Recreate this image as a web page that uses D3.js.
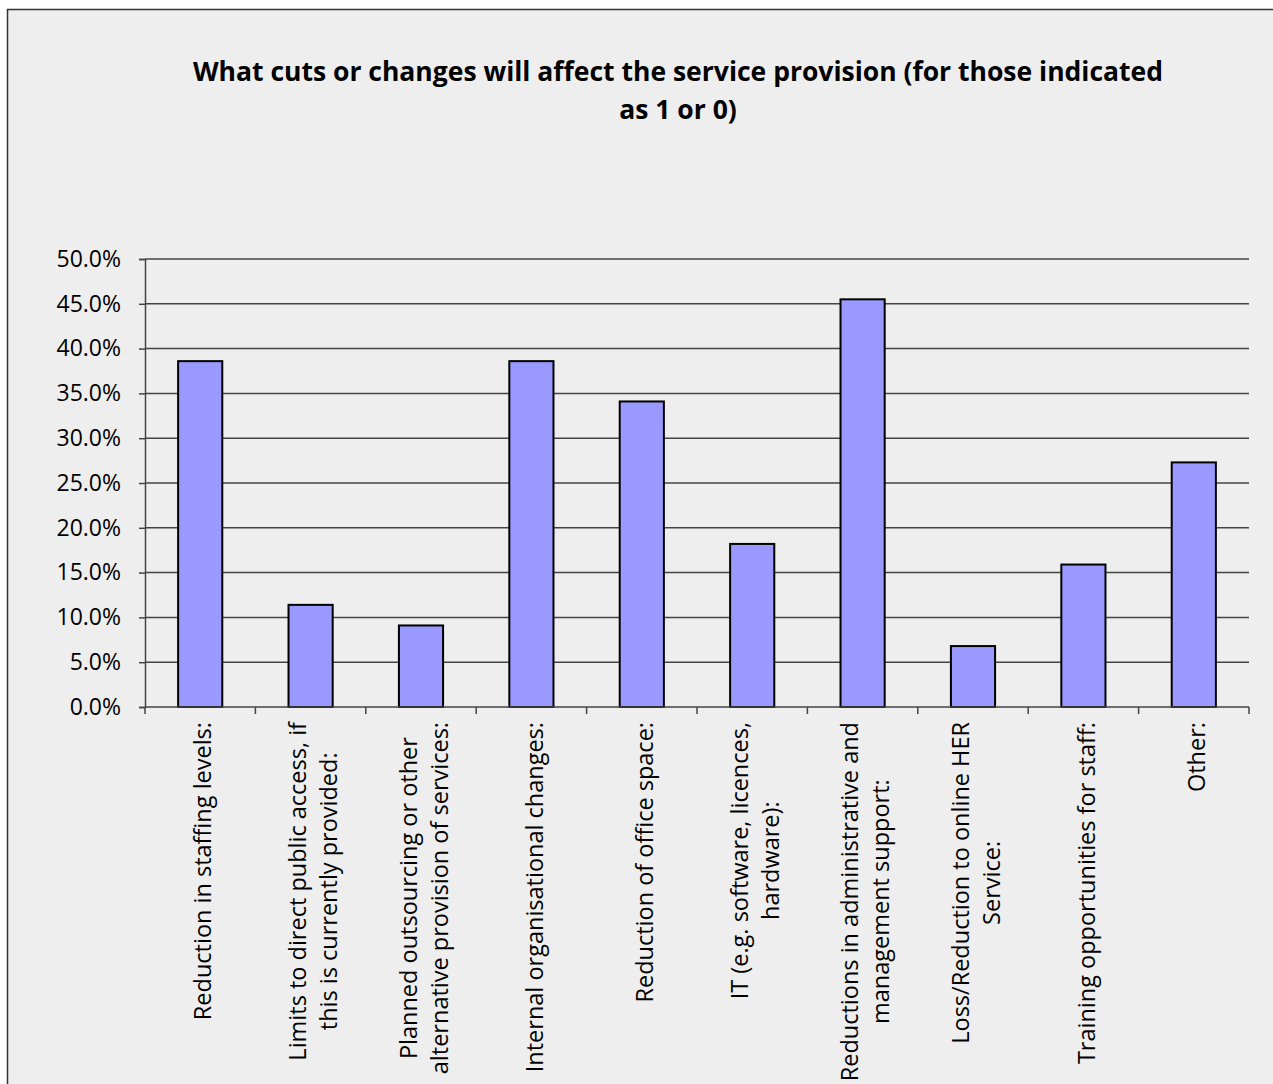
<!DOCTYPE html>
<html>
<head>
<meta charset="utf-8">
<script src="https://cdn.jsdelivr.net/npm/d3@7"></script>
<style>
  body { margin: 0; background: #fff; }
  text { font-family: "Open Sans", sans-serif; fill: #000; }
</style>
</head>
<body>
<div id="chart"></div>
<script>
const titleLines = ["What cuts or changes will affect the service provision (for those indicated", "as 1 or 0)"];

const categories = [
    ["Reduction in staffing levels:"],
    ["Limits to direct public access, if", "this is currently provided:"],
    ["Planned outsourcing or other", "alternative  provision of services:"],
    ["Internal organisational changes:"],
    ["Reduction of office space:"],
    ["IT (e.g. software, licences,", "hardware):"],
    ["Reductions in administrative and", "management support:"],
    ["Loss/Reduction to online HER", "Service:"],
    ["Training opportunities for staff:"],
    ["Other:"]
];

const values = [38.6, 11.4, 9.1, 38.6, 34.1, 18.2, 45.5, 6.8, 15.9, 27.3];

const yTicks = [0, 5, 10, 15, 20, 25, 30, 35, 40, 45, 50];

const W = 1273, H = 1084;
const plot = {left: 145, right: 1249, top: 259, bottom: 707};

const svg = d3.select("#chart")
    .append("svg")
    .attr("width", W)
    .attr("height", H);

// chart area background and frame
svg.append("rect")
    .attr("x", 7.5)
    .attr("y", 9.5)
    .attr("width", W + 10)
    .attr("height", H + 10)
    .attr("fill", "#eeeeee")
    .attr("stroke", "#333")
    .attr("stroke-width", 1.5);

const title = svg.append("text")
    .attr("x", 678)
    .attr("y", 81)
    .attr("text-anchor", "middle")
    .style("font-size", "26.5px")
    .style("font-weight", "bold");
title.selectAll("tspan")
    .data(titleLines)
    .join("tspan")
    .attr("x", 678)
    .attr("dy", (d, i) => i === 0 ? 0 : 38)
    .text(d => d);

const idx = d3.range(categories.length);

const x = d3.scaleBand()
    .domain(idx)
    .range([plot.left, plot.right])
    .padding(0);

const y = d3.scaleLinear()
    .domain([0, 50])
    .range([plot.bottom, plot.top]);

// gridlines
svg.append("g")
    .selectAll("line")
    .data(yTicks.filter(d => d > 0))
    .join("line")
    .attr("x1", plot.left)
    .attr("x2", plot.right)
    .attr("y1", d => y(d))
    .attr("y2", d => y(d))
    .attr("stroke", "#444")
    .attr("stroke-width", 1.5);

// y axis
const yAxis = svg.append("g")
    .attr("transform", `translate(${plot.left},0)`)
    .call(d3.axisLeft(y).tickValues(yTicks).tickSize(6).tickPadding(18).tickFormat(d => d.toFixed(1) + "%"));
yAxis.select(".domain").attr("stroke", "#444").attr("stroke-width", 1.5);
yAxis.selectAll(".tick line").attr("stroke", "#444").attr("stroke-width", 1.5);
yAxis.selectAll(".tick text")
    .style("font-family", "'Open Sans', sans-serif")
    .style("font-size", "23px")
    .attr("fill", "#000");

// bars
const barW = x.bandwidth() / 2.5;
svg.append("g")
    .selectAll("rect")
    .data(values)
    .join("rect")
    .attr("x", (d, i) => x(i) + (x.bandwidth() - barW) / 2)
    .attr("y", d => y(d))
    .attr("width", barW)
    .attr("height", d => y(0) - y(d))
    .attr("fill", "#9999ff")
    .attr("stroke", "#000")
    .attr("stroke-width", 2);

// x axis with ticks at category boundaries
const xAxis = svg.append("g")
    .attr("transform", `translate(0,${plot.bottom})`);
xAxis.append("line")
    .attr("x1", plot.left)
    .attr("x2", plot.right)
    .attr("stroke", "#444")
    .attr("stroke-width", 1.5);
xAxis.selectAll(".xtick")
    .data(idx.concat([categories.length]))
    .join("line")
    .attr("class", "xtick")
    .attr("x1", d => d < categories.length ? x(d) : plot.right)
    .attr("x2", d => d < categories.length ? x(d) : plot.right)
    .attr("y1", 0)
    .attr("y2", 7)
    .attr("stroke", "#444")
    .attr("stroke-width", 1.5);

// rotated category labels, lines centred on each other, block ending near the axis
const lineH = 31;
const labels = svg.append("g")
    .selectAll("g")
    .data(categories)
    .join("g")
    .attr("transform", (d, i) => `translate(${x(i) + x.bandwidth() / 2 + 3},${plot.bottom + 15}) rotate(-90)`);

labels.each(function(lines) {
    const g = d3.select(this);
    const t = g.selectAll("text")
        .data(lines)
        .join("text")
        .style("font-size", "23.5px")
        .attr("dy", "0.35em")
        .attr("y", (d, i) => (i - (lines.length - 1) / 2) * lineH)
        .text(d => d);
    let maxLen = 0;
    t.each(function() { maxLen = Math.max(maxLen, this.getComputedTextLength()); });
    t.attr("text-anchor", "middle").attr("x", -maxLen / 2);
});
</script>
</body>
</html>
